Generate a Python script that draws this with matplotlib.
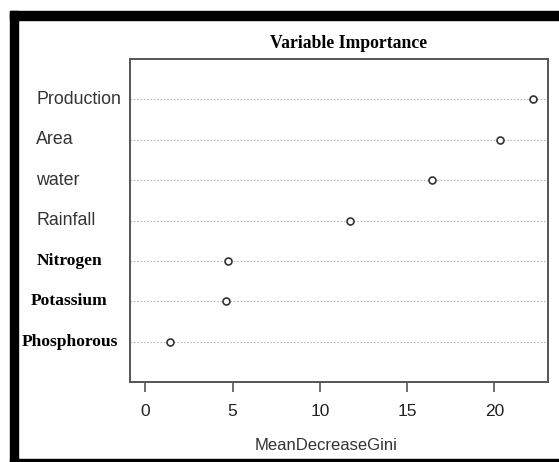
import matplotlib
matplotlib.use('Agg')
import matplotlib.pyplot as plt
import matplotlib.transforms as mtransforms
from matplotlib.patches import Rectangle

# data (top to bottom as shown)
variables = ['Production', 'Area', 'water', 'Rainfall', 'Nitrogen', 'Potassium', 'Phosphorous']
gini = [22.2, 20.3, 16.4, 11.7, 4.75, 4.6, 1.43]
serif_labels = ['Nitrogen', 'Potassium', 'Phosphorous']
x_ticks = [0, 5, 10, 15, 20]

W, H = 559, 462
fig = plt.figure(figsize=(W / 100, H / 100), dpi=100)
ax = fig.add_axes([130 / W, 1 - 382 / H, (548 - 130) / W, (382 - 59) / H])

n = len(variables)
ypos = list(range(n, 0, -1))

# dotted guide lines and open circles
for y in ypos:
    ax.axhline(y, color='#b8b8b8', lw=0.8, ls=(0, (1.5, 1.5)), zorder=1)
ax.plot(gini, ypos, 'o', ls='none', ms=5, mfc='white', mec='#333333', mew=1.2, zorder=3)

ax.set_xlim(-0.88, 23.07)
ax.set_ylim(0, n + 1)
ax.set_xticks(x_ticks)
ax.set_yticks([])
ax.tick_params(axis='x', length=7, width=1.2, color='#555555', pad=9,
               labelsize=12.5, labelcolor='#222222')
for lab in ax.get_xticklabels():
    lab.set_family('Liberation Sans')
for sp in ax.spines.values():
    sp.set_color('#555555')
    sp.set_linewidth(1.4)

# row labels: sans ones left aligned, serif ones centered
trans = mtransforms.blended_transform_factory(fig.transFigure, ax.transData)
for name, y in zip(variables, ypos):
    if name in serif_labels:
        ax.text(69.5 / W, y, name, transform=trans, ha='center', va='center',
                family='Liberation Serif', weight='bold', fontsize=12.6, color='black')
    else:
        ax.text(36 / W, y, name, transform=trans, ha='left', va='center',
                family='Liberation Sans', fontsize=12.8, color='#333333')

fig.text(349 / W, 1 - 43 / H, 'Variable Importance', ha='center', va='center',
         family='Liberation Serif', weight='bold', fontsize=12.7)
fig.text(326 / W, 1 - 446 / H, 'MeanDecreaseGini', ha='center', va='center',
         family='Liberation Sans', fontsize=12, color='#333333')

# black frame (top, left, bottom)
fig.patches.append(Rectangle((10 / W, 1 - 20 / H), 1 - 10 / W, 9 / H,
                             transform=fig.transFigure, color='black', zorder=0))
fig.patches.append(Rectangle((10 / W, 0), 8 / W, 1 - 11 / H,
                             transform=fig.transFigure, color='black', zorder=0))
fig.patches.append(Rectangle((10 / W, 0), 1 - 10 / W, 3 / H,
                             transform=fig.transFigure, color='black', zorder=0))

fig.savefig('out.png', dpi=100)
